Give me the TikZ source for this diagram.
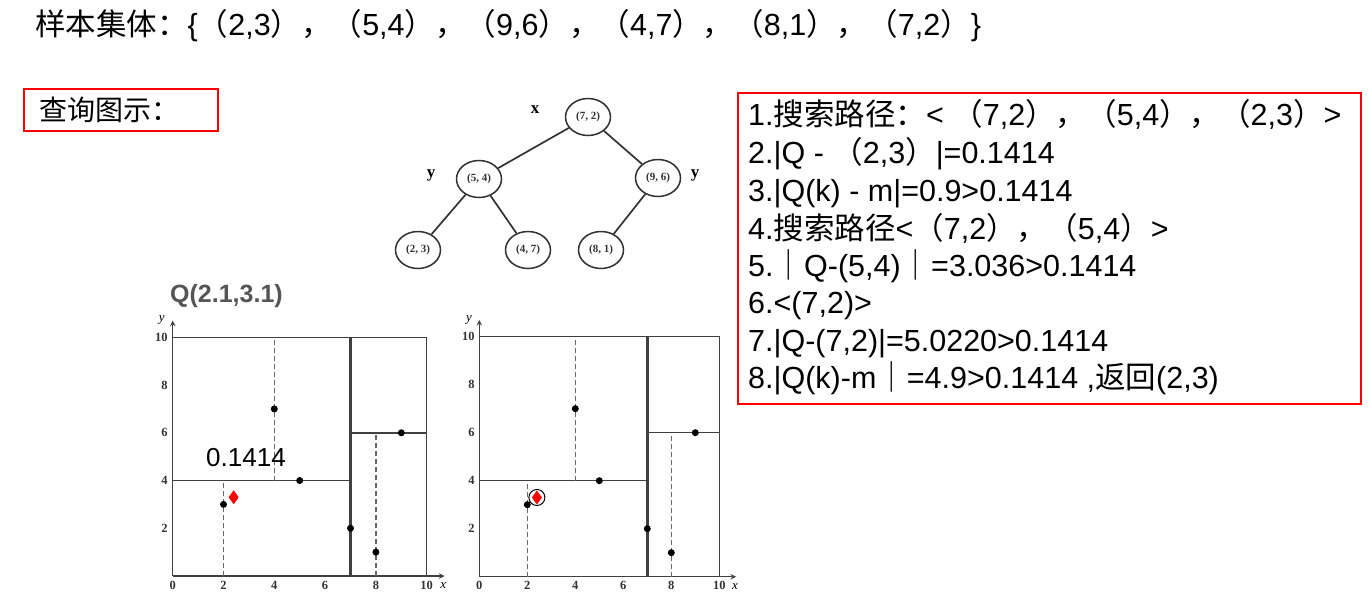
\documentclass[tikz,border=0pt]{standalone}
\usepackage{fontspec}
\setmainfont{Liberation Sans}
\newfontfamily\zhfont{Noto Sans CJK SC}
\newfontfamily\bookfont{Liberation Serif}
\usepackage{tikz}
\usetikzlibrary{shapes.geometric}

\newcommand{\zh}[1]{{\zhfont #1}}
\newcommand{\fp}[1]{\zh{（}#1\zh{）}}
\newcommand{\fc}{\zh{，}}

\definecolor{qgray}{HTML}{555555}
\definecolor{inkgray}{HTML}{333333}

\tikzset{
  bigtext/.style={font=\fontsize{30.5}{36}\selectfont},
  stepline/.style={bigtext, anchor=base west, inner sep=0pt},
  redbox/.style={draw=red, line width=2pt},
  querybox/.style={font=\fontsize{28}{34}\selectfont, anchor=north west, minimum width=194pt,
    minimum height=42pt, text width=164pt, inner xsep=15pt, align=left},
  kdnode/.style={draw=inkgray, ellipse, minimum width=45pt, minimum height=37pt, inner sep=0pt,
    line width=1.5pt, text=inkgray, font=\bookfont\bfseries\fontsize{11}{12}\selectfont},
  splitname/.style={font=\bookfont\bfseries\fontsize{17}{18}\selectfont},
  treeedge/.style={draw=inkgray, line width=1.7pt},
  plotline/.style={draw=black!75, line width=1.5pt},
  splitline/.style={draw=black!60, line width=1.2pt, dash pattern=on 5pt off 3pt},
  ticklabel/.style={font=\bookfont\bfseries\fontsize{12.5}{14}\selectfont, text=inkgray, inner sep=1pt},
  axisname/.style={font=\bookfont\itshape\fontsize{13}{14}\selectfont, inner sep=0pt}
}

\begin{document}
\begin{tikzpicture}[x=1pt, y=-1pt, >=stealth]
             \useasboundingbox (0,0) rectangle (1370,608);

             \node[bigtext, anchor=base west, inner sep=0pt] (title) at (35,35)
               {\zh{样本集体：}\{\fp{2,3}\fc\fp{5,4}\fc\fp{9,6}\fc\fp{4,7}\fc\fp{8,1}\fc\fp{7,2}\}};

             \node[redbox, querybox] (query) at (23,88) {\zh{查询图示：}};

             \node[kdnode] (n72) at (588,117) {(7, 2)};
             \node[kdnode] (n54) at (479,179) {(5, 4)};
             \node[kdnode] (n96) at (658,178) {(9, 6)};
             \node[kdnode] (n23) at (418,250) {(2, 3)};
             \node[kdnode] (n47) at (528,250) {(4, 7)};
             \node[kdnode] (n81) at (601,250) {(8, 1)};
             \node[splitname] (lx) at (535,110) {x};
             \node[splitname] (ly1) at (431,175) {y};
             \node[splitname] (ly2) at (695,175) {y};
             \draw[treeedge] (n72) -- (n54);
             \draw[treeedge] (n72) -- (n96);
             \draw[treeedge] (n54) -- (n23);
             \draw[treeedge] (n54) -- (n47);
             \draw[treeedge] (n96) -- (n81);

             \draw[redbox] (738,93) rectangle (1361,404);
             \node[stepline] (s1) at (748,125) {1.\zh{搜索路径：}< \fp{7,2}\fc\fp{5,4}\fc\fp{2,3}>};
             \node[stepline] (s2) at (748,163) {2.|Q - \fp{2,3}|=0.1414};
             \node[stepline] (s3) at (748,201) {3.|Q(k) - m|=0.9>0.1414};
             \node[stepline] (s4) at (748,239) {4.\zh{搜索路径}<\fp{7,2}\fc\fp{5,4}>};
             \node[stepline] (s5) at (748,276) {5.\zh{｜}Q-(5,4)\zh{｜}=3.036>0.1414};
             \node[stepline] (s6) at (748,313) {6.<(7,2)>};
             \node[stepline] (s7) at (748,351) {7.|Q-(7,2)|=5.0220>0.1414};
             \node[stepline] (s8) at (748,388) {8.|Q(k)-m\zh{｜}=4.9>0.1414 ,\zh{返回}(2,3)};

             \node[anchor=base west, inner sep=0pt, text=qgray, font=\bfseries\fontsize{25}{30}\selectfont]
               (qname) at (170,302) {Q(2.1,3.1)};

             \foreach \ox/\oy/\ux/\uy [count=\i] in {172.7/576/25.4/23.87, 479.3/576.7/24/24} {
             \begin{scope}[shift={(\ox pt,-\oy pt)}, x=\ux pt, y=\uy pt]
             \draw[plotline, ->] (0,0) -- (10.7,0);
             \draw[plotline, ->] (0,0) -- (0,10.7);
             \draw[plotline] (0,10) -- (10,10) -- (10,0);
             \draw[plotline] (0,4) -- (7,4);
             \draw[plotline] (7,6) -- (10,6);
             \draw[plotline, line width=2.6pt] (7,0) -- (7,10);
             \draw[splitline] (2,0) -- (2,4);
             \draw[splitline] (4,4) -- (4,10);
             \draw[splitline] (8,0) -- (8,6);
             \foreach \px/\py in {2/3,5/4,9/6,4/7,8/1,7/2}
               \fill (\px,\py) circle (3.5pt);
             \foreach \t in {0,2,...,10}
               \node[ticklabel, anchor=north] (xt\i-\t) at (\t,-0.15) {\t};
             \foreach \t in {2,4,...,10}
               \node[ticklabel, anchor=east] (yt\i-\t) at (-0.15,\t) {\t};
             \node[axisname] (xname\i) at (10.65,-0.4) {x};
             \node[axisname] (yname\i) at (-0.43,10.72) {y};
             \fill[red] (2.4,3.3) +(0pt,7pt) -- +(5pt,0pt) -- +(0pt,-7pt) -- +(-5pt,0pt) -- cycle;
             \end{scope}
             }

             \node[anchor=base west, inner sep=0pt, font=\fontsize{26}{30}\selectfont] (radius) at (206,466) {0.1414};
             \draw[black, line width=1pt] (536.9,497.5) circle (8);
\end{tikzpicture}
\end{document}
